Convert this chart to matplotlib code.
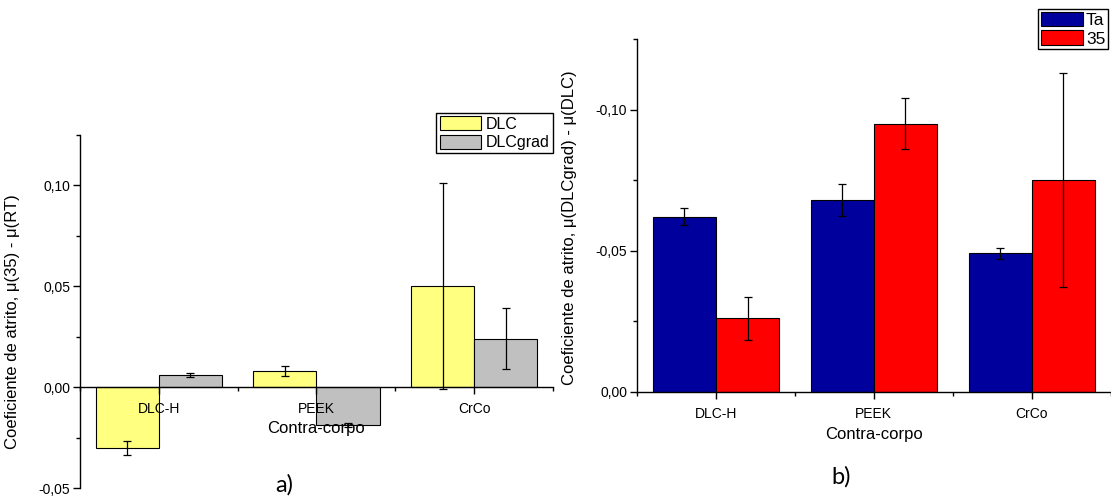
import numpy as np
import matplotlib
matplotlib.use("Agg")
import matplotlib.pyplot as plt
from matplotlib.ticker import FuncFormatter, MultipleLocator, FixedLocator

plt.rcParams['font.family'] = ['Liberation Sans', 'DejaVu Sans']

# Counterbody materials
categories = ["DLC-H", "PEEK", "CrCo"]

# a) mu(35) - mu(RT)
dlc = [-0.030, 0.008, 0.050]
dlc_err = [0.0035, 0.0027, 0.051]
dlcgrad = [0.006, -0.019, 0.024]
dlcgrad_err = [0.001, 0.001, 0.015]

# b) mu(DLCgrad) - mu(DLC)
ta = [-0.062, -0.068, -0.049]
ta_err = [0.003, 0.0056, 0.002]
t35 = [-0.026, -0.095, -0.075]
t35_err = [0.0076, 0.009, 0.038]

comma = FuncFormatter(lambda v, p: f"{v:.2f}".replace('.', ','))

fig = plt.figure(figsize=(11.11, 4.97), dpi=100)
ax1 = fig.add_axes([0.0720, 0.0181, 0.4257, 0.7103])
ax2 = fig.add_axes([0.5734, 0.2119, 0.4262, 0.7096])

x = np.arange(1, len(categories) + 1)
w = 0.4
err_kw = dict(ecolor='black', elinewidth=0.9, capsize=3, capthick=0.9)


def style_axes(ax):
    ax.set_xlim(0.5, 3.5)
    ax.spines['top'].set_visible(False)
    ax.spines['right'].set_visible(False)
    ax.spines['bottom'].set_position(('data', 0))
    ax.spines['left'].set_linewidth(1.0)
    ax.spines['bottom'].set_linewidth(1.0)
    ax.set_xticks(x)
    ax.set_xticklabels(categories)
    ax.xaxis.set_minor_locator(FixedLocator([0.5, 1.5, 2.5, 3.5]))
    ax.yaxis.set_major_locator(MultipleLocator(0.05))
    ax.yaxis.set_minor_locator(MultipleLocator(0.025))
    ax.yaxis.set_major_formatter(comma)
    ax.tick_params(which='major', direction='out', length=5, width=1.0, labelsize=10, pad=6)
    ax.tick_params(which='minor', direction='out', length=3, width=1.0)
    ax.tick_params(axis='y', pad=2)


# a) yellow / grey bars
ax1.bar(x - w / 2, dlc, w, yerr=dlc_err, color='#FFFF80', edgecolor='black',
        linewidth=0.8, error_kw=err_kw, label='DLC')
ax1.bar(x + w / 2, dlcgrad, w, yerr=dlcgrad_err, color='#C0C0C0', edgecolor='black',
        linewidth=0.8, error_kw=err_kw, label='DLCgrad')
ax1.set_ylim(-0.05, 0.125)
style_axes(ax1)
ax1.set_ylabel(u"Coeficiente de atrito, \u03bc(35) - \u03bc(RT)", fontsize=12)
ax1.yaxis.set_label_coords(-0.127, 0.47)
ax1.set_xlabel("Contra-corpo", fontsize=12)
ax1.xaxis.set_label_coords(0.5, 0.19)
ax1.legend(loc='upper right', bbox_to_anchor=(0.4977, 0.7726), bbox_transform=fig.transFigure,
           fontsize=11.5, frameon=True, fancybox=False, edgecolor='black', framealpha=1,
           borderaxespad=0, borderpad=0.2, labelspacing=0.2, handlelength=2.6,
           handleheight=0.95, handletextpad=0.3)

# b) blue / red bars, axis inverted
ax2.bar(x - w / 2, ta, w, yerr=ta_err, color='#00009C', edgecolor='black',
        linewidth=0.8, error_kw=err_kw, label='Ta')
ax2.bar(x + w / 2, t35, w, yerr=t35_err, color='#FF0000', edgecolor='black',
        linewidth=0.8, error_kw=err_kw, label='35')
ax2.set_ylim(0, -0.125)
style_axes(ax2)
ax2.set_ylabel(u"Coeficiente de atrito, \u03bc(DLCgrad) - \u03bc(DLC)", fontsize=12)
ax2.yaxis.set_label_coords(-0.127, 0.464)
ax2.set_xlabel("Contra-corpo", fontsize=12)
ax2.xaxis.set_label_coords(0.5, -0.1)
ax2.legend(loc='upper right', bbox_to_anchor=(0.9973, 0.9819), bbox_transform=fig.transFigure,
           fontsize=12.5, frameon=True, fancybox=False, edgecolor='black', framealpha=1,
           borderaxespad=0, borderpad=0.15, labelspacing=0.15, handlelength=2.4,
           handleheight=0.9, handletextpad=0.2)

fig.text(284 / 1111, 1 - 485 / 497, "a)", fontsize=17, family='Lato', ha='center', va='center')
fig.text(841 / 1111, 1 - 477 / 497, "b)", fontsize=17, family='Lato', ha='center', va='center')

fig.savefig("out.png", dpi=100)
